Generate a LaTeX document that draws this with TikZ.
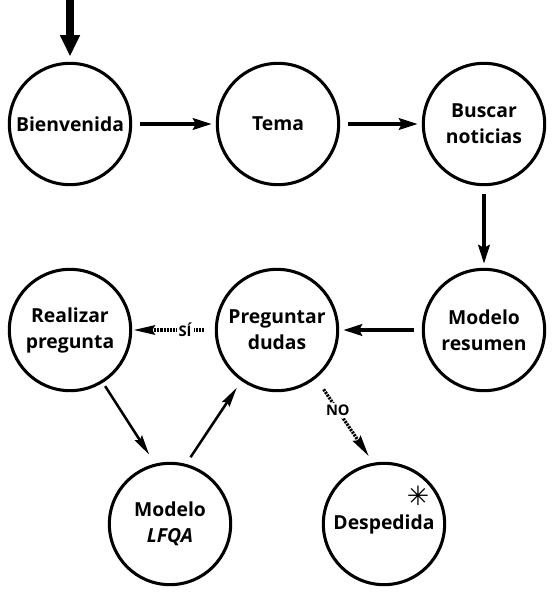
\documentclass[tikz,border=0pt]{standalone}
\usepackage{fontspec}
\setmainfont{Open Sans}
\newfontfamily\symfont{DejaVu Sans}
\usetikzlibrary{arrows.meta}

\begin{document}
\begin{tikzpicture}[>={Stealth[length=14pt,width=8.5pt,inset=2pt]},x=0.75pt,y=-0.75pt,
	estado/.style={circle,draw,line width=2.3pt,minimum size=91pt,inner sep=0pt,align=center,
		font=\fontsize{14.5}{19.5}\selectfont\bfseries},
	flecha/.style={->,line width=3pt,shorten <=6pt,shorten >=3pt},
	fina/.style={-{Stealth[length=15pt,width=6.5pt,inset=2pt]},line width=1.9pt},
	opcion/.style={-{Stealth[length=16pt,width=7pt,inset=2pt]},line width=2.4pt,dash pattern=on 1.6pt off 0.8pt},
	etiqueta/.style={fill=white,inner sep=1.5pt,font=\fontsize{11}{12}\selectfont\bfseries}]
	\useasboundingbox (0,0) rectangle (551,603);
	% estados
	\node[estado] (bien) at (70,124) {Bienvenida};
	\node[estado] (tema) at (278,124) {Tema};
	\node[estado] (buscar) at (484,124) {Buscar\\noticias};
	\node[estado] (resumen) at (484,330) {Modelo\\resumen};
	\node[estado] (dudas) at (277,330) {Preguntar\\dudas};
	\node[estado] (realizar) at (70,330) {Realizar\\pregunta};
	\node[estado] (lfqa) at (170,524) {Modelo\\\textit{LFQA}};
	\node[estado] (despedida) at (384,524) {Despedida};
	\node[font=\symfont\fontsize{20}{20}\selectfont] (estrella) at (418,496) {✳};
	\coordinate (inicio) at (70,0);
	% transiciones
	\draw[-{Triangle[length=16pt,width=14pt]},line width=5.5pt,shorten >=4pt] (inicio) -- (bien);
	\draw[flecha] (bien) -- (tema);
	\draw[flecha] (tema) -- (buscar);
	\draw[flecha] (buscar) -- (resumen);
	\draw[flecha] (resumen) -- (dudas);
	\draw[opcion,shorten <=8pt,shorten >=1pt] (dudas) -- node[etiqueta,pos=0.36]{SÍ} (realizar);
	\draw[fina,shorten <=3pt,shorten >=8pt] (realizar.-58) -- (lfqa.104);
	\draw[fina,shorten <=6pt,shorten >=6pt] (lfqa.75) -- (dudas.235);
	\draw[opcion,shorten <=10pt,shorten >=6pt] (dudas.-51) -- node[etiqueta,pos=0.38]{NO} (despedida.100);
\end{tikzpicture}
\end{document}
